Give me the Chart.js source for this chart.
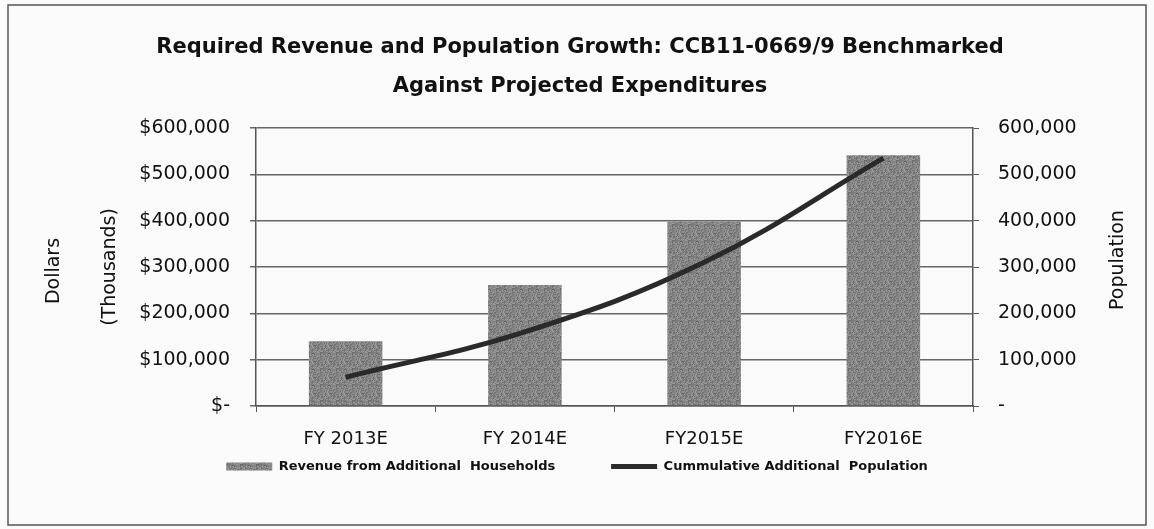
<!DOCTYPE html>
<html>
<head>
<meta charset="utf-8">
<script src="https://cdn.jsdelivr.net/npm/chart.js@4"></script>
<style>
  html, body { margin: 0; padding: 0; background: #fafafa; }
  #wrap { width: 1154px; height: 529px; }
</style>
</head>
<body>
<div id="wrap"><canvas id="chart" width="1154" height="529"></canvas></div>
<script>
var categories = ['FY 2013E', 'FY 2014E', 'FY2015E', 'FY2016E'];
var revenue = [140000, 261000, 398000, 541000];
var population = [62000, 160000, 310000, 535000];
var titleLines = ['Required Revenue and Population Growth: CCB11-0669/9 Benchmarked', 'Against Projected Expenditures'];

var FONT = 'DejaVu Sans';

// grainy grey fill like the scanned bars
function makeTexture() {
    var c = document.createElement('canvas');
    c.width = 16; c.height = 16;
    var g = c.getContext('2d');
    for (var i = 0; i < 16; i++) {
        for (var j = 0; j < 16; j++) {
            var h = ((i * 73856093) ^ (j * 19349663)) >>> 0;
            var v = 105 + (h % 55);
            g.fillStyle = 'rgb(' + v + ',' + v + ',' + v + ')';
            g.fillRect(i, j, 1, 1);
        }
    }
    return g.createPattern(c, 'repeat');
}

function drawRotated(ctx, text, x, y) {
    ctx.save();
    ctx.fillStyle = '#111';
    ctx.textAlign = 'center';
    ctx.textBaseline = 'middle';
    ctx.font = '19px "' + FONT + '"';
    ctx.translate(x, y);
    ctx.rotate(-Math.PI / 2);
    ctx.fillText(text, 0, 0);
    ctx.restore();
}

// title, axis titles and outer frame
var textPlugin = {
    id: 'texts',
    beforeDraw: function (chart) {
        var ctx = chart.ctx;
        ctx.save();
        ctx.fillStyle = '#fafafa';
        ctx.fillRect(0, 0, chart.width, chart.height);
        ctx.strokeStyle = '#555';
        ctx.lineWidth = 1.5;
        ctx.strokeRect(8, 5, 1138, 520);
        ctx.restore();
    },
    afterDraw: function (chart) {
        var ctx = chart.ctx;
        ctx.save();
        ctx.fillStyle = '#111';
        ctx.textAlign = 'center';
        ctx.textBaseline = 'middle';
        ctx.font = 'bold 21px "' + FONT + '"';
        ctx.fillText(titleLines[0], 580, 48);
        ctx.fillText(titleLines[1], 580, 87);
        ctx.restore();

        drawRotated(ctx, 'Dollars', 54, 271);
        drawRotated(ctx, '(Thousands)', 110, 267);
        drawRotated(ctx, 'Population', 1118, 260);
    }
};

Chart.defaults.font.family = FONT;
Chart.defaults.color = '#111';

var ctx = document.getElementById('chart').getContext('2d');
var myChart = new Chart(ctx, {
    type: 'bar',
    data: {
        labels: categories,
        datasets: [{
            type: 'line',
            label: 'Cummulative Additional  Population',
            data: population,
            yAxisID: 'y1',
            borderColor: '#2a2a2a',
            backgroundColor: '#2a2a2a',
            borderWidth: 5,
            tension: 0.4,
            pointRadius: 0,
            pointStyle: 'line',
            order: 0
        }, {
            label: 'Revenue from Additional  Households           ',
            data: revenue,
            yAxisID: 'y',
            backgroundColor: makeTexture(),
            borderColor: '#6a6a6a',
            borderWidth: 0,
            categoryPercentage: 1,
            barPercentage: 0.41,
            pointStyle: 'rect',
            order: 1
        }]
    },
    options: {
        responsive: false,
        animation: false,
        layout: { padding: { top: 128, left: 0, right: 0, bottom: 46 } },
        plugins: {
            tooltip: { enabled: false },
            legend: {
                position: 'bottom',
                reverse: true,
                labels: {
                    usePointStyle: true,
                    pointStyleWidth: 46,
                    boxHeight: 8,
                    padding: 6,
                    font: { size: 13, weight: 'bold' },
                    color: '#111'
                }
            }
        },
        scales: {
            x: {
                offset: true,
                grid: { offset: true, drawOnChartArea: false, drawTicks: true, tickLength: 6, color: '#555' },
                border: { color: '#555', width: 1.5 },
                ticks: { padding: 17, font: { size: 18 }, color: '#111' },
                afterFit: function (s) { s.height = 48; }
            },
            y: {
                position: 'left',
                min: 0, max: 600000,
                ticks: {
                    stepSize: 100000,
                    padding: 20,
                    font: { size: 19 },
                    color: '#111',
                    callback: function (v) { return v === 0 ? '$-' : '$' + v.toLocaleString('en-US'); }
                },
                grid: { color: '#666', lineWidth: 1.5, tickLength: 6 },
                border: { color: '#555', width: 1.5 },
                afterFit: function (s) { s.width = 256; }
            },
            y1: {
                position: 'right',
                min: 0, max: 600000,
                ticks: {
                    stepSize: 100000,
                    padding: 19,
                    font: { size: 19 },
                    color: '#111',
                    callback: function (v) { return v === 0 ? '-' : v.toLocaleString('en-US'); }
                },
                grid: { drawOnChartArea: false, color: '#555', tickLength: 6 },
                border: { color: '#555', width: 1.5 },
                afterFit: function (s) { s.width = 181; }
            }
        }
    },
    plugins: [textPlugin]
});
</script>
</body>
</html>
